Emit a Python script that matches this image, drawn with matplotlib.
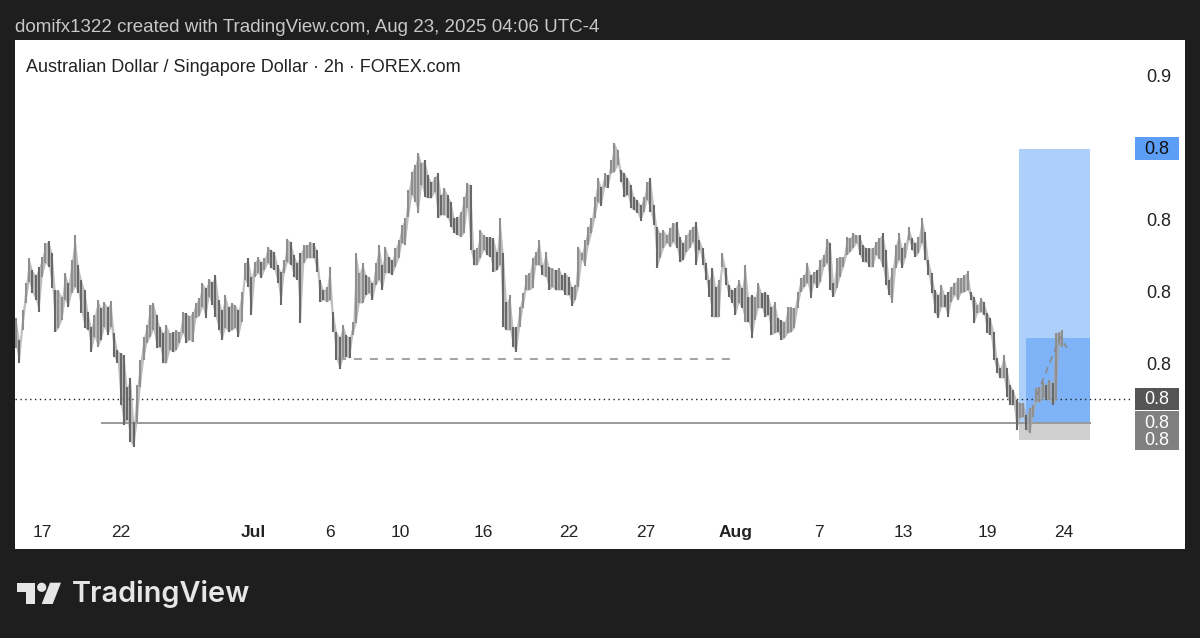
import numpy as np
import matplotlib
matplotlib.use('Agg')
import matplotlib.pyplot as plt
from matplotlib.patches import Rectangle, Circle, Polygon
from matplotlib.ticker import FormatStrFormatter

plt.rcParams['font.family'] = ['Liberation Sans', 'DejaVu Sans']

# candle highs and lows in pips
highs = [
    8282, 8260, 8290, 8317, 8342, 8330, 8325, 8333, 8343, 8357, 8359,
    8347, 8310, 8310, 8303, 8327, 8317, 8340, 8365, 8335, 8320,
    8310, 8288, 8273, 8285, 8300, 8292, 8298, 8293, 8299, 8267, 8250,
    8247, 8245, 8213, 8222, 8178, 8215, 8240, 8263, 8275, 8295,
    8297, 8285, 8273, 8267, 8275, 8267, 8268, 8270, 8268, 8288,
    8287, 8284, 8288, 8297, 8302, 8317, 8312, 8321, 8318, 8325,
    8300, 8290, 8305, 8293, 8297, 8295, 8290, 8308, 8337, 8342,
    8323, 8338, 8343, 8338, 8342, 8353, 8350, 8348, 8335, 8328,
    8340, 8361, 8358, 8345, 8337, 8347,
    8355, 8355, 8358, 8357, 8350, 8320, 8310, 8313, 8333, 8288,
    8268, 8263, 8275, 8265, 8263, 8278, 8347, 8327, 8337, 8325,
    8323, 8317, 8337, 8355, 8335, 8353, 8343, 8340, 8352, 8360,
    8375, 8382, 8410, 8428, 8435, 8447, 8437, 8440, 8425, 8418,
    8423, 8427, 8405, 8412, 8405, 8398, 8382, 8383, 8388, 8403,
    8417, 8415, 8350, 8352, 8370, 8365, 8363, 8363, 8362, 8348,
    8382, 8347, 8298, 8305, 8273, 8273, 8293, 8307, 8325, 8327,
    8342, 8348, 8360, 8335, 8348, 8333, 8332, 8330, 8332, 8325,
    8327, 8323, 8313, 8315, 8353, 8347, 8360, 8373, 8382, 8403,
    8422, 8413, 8427, 8425, 8440, 8457, 8450, 8430, 8427, 8422,
    8415, 8403, 8400, 8395, 8403, 8418, 8422,
    8395, 8373, 8367, 8370, 8365, 8372, 8377, 8378, 8363, 8357,
    8365, 8370, 8373, 8378, 8360, 8352, 8337, 8320, 8332, 8313,
    8320, 8347, 8332, 8315, 8310, 8312, 8320, 8312, 8335, 8303,
    8305, 8303, 8317, 8307, 8308, 8305, 8293, 8298, 8282, 8280,
    8278, 8293, 8293, 8292, 8308, 8322, 8325, 8337, 8325, 8328,
    8330, 8340, 8345, 8361, 8357, 8317, 8342, 8343, 8343, 8363,
    8362, 8367, 8365, 8365, 8355, 8352, 8352, 8352, 8358, 8362,
    8367, 8350, 8320, 8332, 8355, 8367, 8352, 8357, 8373, 8362,
    8357, 8363, 8382, 8368, 8340, 8327, 8310, 8305, 8315, 8305,
    8308, 8313, 8317, 8322, 8322, 8325, 8329, 8308,
    8303, 8295, 8302, 8298, 8287, 8282, 8268, 8242, 8232,
    8245, 8232, 8215, 8210, 8200, 8197, 8197, 8185, 8192, 8195,
    8212, 8213, 8218, 8215, 8220, 8217, 8267, 8268, 8270,
]
lows = [
    8252, 8237, 8270, 8297, 8318, 8307, 8300, 8288, 8323, 8337, 8333,
    8312, 8268, 8272, 8280, 8300, 8293, 8307, 8313, 8307, 8287,
    8272, 8270, 8248, 8263, 8253, 8260, 8273, 8265, 8273, 8243, 8237,
    8195, 8175, 8180, 8158, 8153, 8178, 8213, 8240, 8257, 8263,
    8270, 8252, 8253, 8237, 8237, 8250, 8248, 8250, 8257, 8267,
    8257, 8260, 8258, 8282, 8284, 8293, 8282, 8303, 8295, 8283,
    8270, 8260, 8272, 8268, 8270, 8272, 8263, 8278, 8320, 8313,
    8285, 8323, 8327, 8322, 8330, 8337, 8332, 8330, 8317, 8295,
    8327, 8338, 8335, 8323, 8320, 8277,
    8337, 8342, 8342, 8342, 8328, 8298, 8300, 8298, 8300, 8268,
    8240, 8231, 8242, 8243, 8242, 8265, 8277, 8297, 8297, 8305,
    8307, 8300, 8315, 8320, 8310, 8327, 8327, 8325, 8333, 8342,
    8357, 8355, 8383, 8405, 8398, 8387, 8415, 8403, 8402, 8402,
    8408, 8382, 8385, 8385, 8382, 8373, 8367, 8365, 8363, 8367,
    8392, 8350, 8335, 8335, 8342, 8350, 8345, 8343, 8328, 8330,
    8335, 8273, 8270, 8270, 8253, 8248, 8273, 8292, 8310, 8310,
    8312, 8335, 8335, 8325, 8323, 8310, 8313, 8310, 8310, 8310,
    8305, 8305, 8294, 8300, 8313, 8340, 8334, 8355, 8367, 8382,
    8398, 8394, 8413, 8412, 8427, 8428, 8435, 8418, 8403, 8405,
    8392, 8390, 8387, 8379, 8388, 8400, 8388,
    8375, 8332, 8342, 8352, 8357, 8353, 8358, 8352, 8338, 8340,
    8348, 8352, 8358, 8335, 8350, 8335, 8320, 8303, 8283, 8283,
    8283, 8333, 8315, 8303, 8297, 8285, 8297, 8292, 8278, 8278,
    8262, 8280, 8292, 8292, 8283, 8285, 8265, 8267, 8268, 8260,
    8262, 8267, 8268, 8272, 8292, 8308, 8313, 8317, 8302, 8317,
    8312, 8318, 8333, 8337, 8310, 8303, 8312, 8323, 8333, 8345,
    8348, 8352, 8357, 8345, 8338, 8338, 8333, 8333, 8345, 8341,
    8333, 8315, 8305, 8297, 8332, 8340, 8332, 8342, 8360, 8350,
    8343, 8347, 8357, 8340, 8325, 8307, 8287, 8282, 8293, 8293,
    8283, 8298, 8305, 8300, 8307, 8308, 8310, 8300,
    8277, 8287, 8288, 8285, 8267, 8265, 8240, 8227, 8222,
    8222, 8203, 8195, 8195, 8170, 8182, 8183, 8170, 8167, 8183,
    8198, 8198, 8202, 8200, 8200, 8195, 8200, 8255, 8253,
]

date_bars = [8, 32, 72.5, 96, 117.5, 143, 169, 192.5, 220, 245.5, 271.5, 297, 320.5]
date_labels = ['17', '22', 'Jul', '6', '10', '16', '22', '27', 'Aug', '7', '13', '19', '24']
price_ticks = [8525, 8381, 8309, 8237]

last_price = 8201
support = 8177
swing_low = 8241
target = 8451
stop = 8160
inner_top = 8262
box_start, inner_start, box_end = 306.7, 308.9, 328.4
path_bars = [312.2, 319.3, 321.4]
path_prices = [8205, 8263, 8252]

BG = '#1e1e1e'
highs = np.array(highs) / 1e4
lows = np.array(lows) / 1e4
bars = np.arange(len(highs))
mids = (highs + lows) / 2
colors = ['#8f8f8f' if i == 0 or mids[i] >= mids[i - 1] else '#686868' for i in bars]

fig = plt.figure(figsize=(12, 6.38), dpi=100, facecolor=BG)
ax = fig.add_axes([15 / 1200, 1 - 549 / 638, 1170 / 1200, 509 / 638])
ax.set_facecolor('white')
for s in ax.spines.values():
    s.set_visible(False)
ax.set_xlim(-0.3, 357.5)
ax.set_ylim(0.8051, 0.8560)

# position tool
ax.add_patch(Rectangle((box_start, support / 1e4), box_end - box_start, (target - support) / 1e4,
                       fc='#add0fb', ec='none', zorder=1))
ax.add_patch(Rectangle((inner_start, support / 1e4), box_end - inner_start, (inner_top - support) / 1e4,
                       fc='#7fb3f8', ec='none', zorder=1.1))
ax.add_patch(Rectangle((box_start, stop / 1e4), box_end - box_start, (support - stop) / 1e4,
                       fc='#cfcfcf', ec='none', zorder=1))

# levels
ax.plot([26.3, box_end], [support / 1e4] * 2, color='#9a9a9a', lw=1.4, zorder=2)
ax.plot([98.5, 219.3], [swing_low / 1e4] * 2, color='#9a9a9a', lw=1.3, ls=(0, (4.43, 4.43)), zorder=2)
ax.axhline(last_price / 1e4, xmax=(1132 - 15) / 1170, color='#222222', lw=1, ls=(0, (1, 2.5)), zorder=2)

# the candles sit closer than one column, the pale band fills between them
ax.fill_between(bars, lows, highs, color='#a8a8a8', lw=0, alpha=0.75, zorder=2.5)
ax.vlines(bars, lows, highs, colors=colors, lw=1.5, zorder=3)
ax.plot(path_bars, np.array(path_prices) / 1e4, color='#8a8a8a', lw=1.2, ls=(0, (4, 3)), zorder=4)

# axes, labels sit inside the chart pane
ax.xaxis.set_ticks(date_bars)
ax.set_xticklabels(date_labels)
ax.tick_params(axis='x', length=0, pad=-17, labelsize=12.5, labelcolor='#222222')
for lab in ax.get_xticklabels():
    if lab.get_text() in ('Jul', 'Aug'):
        lab.set_fontweight('bold')
ax.yaxis.tick_right()
ax.set_yticks(np.array(price_ticks) / 1e4)
ax.yaxis.set_major_formatter(FormatStrFormatter('%.1f'))
ax.tick_params(axis='y', length=0, pad=-28, labelsize=13, labelcolor='#222222')

ax.text(11 / 1170, 1 - 28 / 509, 'Australian Dollar / Singapore Dollar · 2h · FOREX.com',
        transform=ax.transAxes, va='center', ha='left', fontsize=13, color='#222222')


def price_tag(top, bottom, color, texts, text_color='white'):
    trans = ax.get_yaxis_transform()
    left = (1135 - 15) / 1170
    ax.add_patch(Rectangle((left, bottom / 1e4), 44 / 1170, (top - bottom) / 1e4, transform=trans,
                           fc=color, ec='none', zorder=5))
    for p in texts:
        ax.text(left + 22 / 1170, p / 1e4, '%.1f' % (p / 1e4), transform=trans, ha='center', va='center',
                fontsize=13, color=text_color, zorder=6)


price_tag(8463, 8440, '#5c9df5', [target], '#111111')
price_tag(8212, 8190, '#555555', [last_price])
price_tag(8189, 8150, '#808080', [support, stop])

fig.text(15 / 1200, 1 - 28 / 638, 'domifx1322 created with TradingView.com, Aug 23, 2025 04:06 UTC-4',
         color='#c8c8c8', fontsize=13.5, va='center', ha='left')

# TradingView logo in figure pixels
logo = fig.add_axes([0, 0, 1, 1], facecolor='none')
logo.set_xlim(0, 1200)
logo.set_ylim(638, 0)
logo.axis('off')
LOGO = '#e6e6e6'
logo.add_patch(Polygon([(17.3, 582.7), (35, 582.7), (35, 604), (26, 604), (26, 591.7), (17.3, 591.7)], fc=LOGO, ec='none'))
logo.add_patch(Circle((41.7, 587.3), 4.6, fc=LOGO, ec='none'))
logo.add_patch(Polygon([(50, 582.7), (61, 582.7), (52.7, 604), (41.7, 604)], fc=LOGO, ec='none'))
logo.text(72, 594, 'TradingView', color=LOGO, fontsize=20.8, fontweight='semibold', family='Inter',
          va='center', ha='left')

fig.savefig('out.png', dpi=100, facecolor=BG)
